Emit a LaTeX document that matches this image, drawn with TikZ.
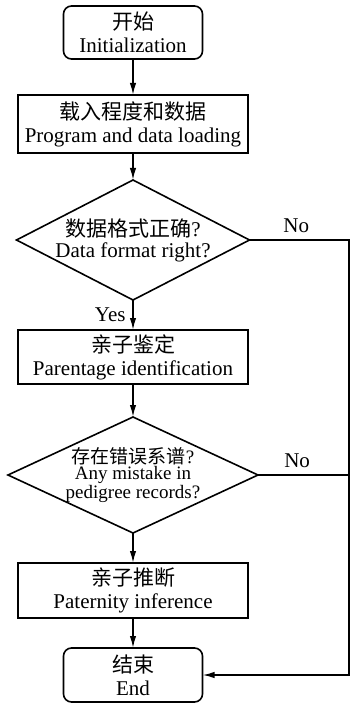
\documentclass[tikz,border=0pt]{standalone}
\usepackage{fontspec}
\setmainfont{Liberation Serif}
\newfontfamily\cjk{Noto Sans CJK SC}
\usepackage{tikz}
\usetikzlibrary{arrows.meta,positioning,shapes.geometric}

\begin{document}
\begin{tikzpicture}[
  font=\fontsize{10.5pt}{11.5pt}\selectfont,
  line width=0.8pt,
  >={Latex[length=6pt,width=3.2pt]},
  term/.style={draw,rounded corners=4pt,minimum width=69.5pt,minimum height=27pt,inner sep=1pt,outer sep=0pt,align=center},
  proc/.style={draw,minimum width=115pt,minimum height=27pt,inner sep=1pt,outer sep=0pt,align=center},
  dec/.style={draw,diamond,shape aspect=2,inner sep=-3pt,outer sep=0pt,align=center},
]
\useasboundingbox (0,0) rectangle (175pt,-353pt);
\coordinate (rt) at (174.5pt,0);

\node[term,minimum height=26.5pt] (init) at (66.5pt,-16.25pt) {{\cjk 开始}\\Initialization};
\node[proc,minimum height=29pt,below=18pt of init] (load) {{\cjk 载入程度和数据}\\Program and data loading};
\node[dec,minimum width=116.5pt,minimum height=60pt,below=13.5pt of load,
  font=\fontsize{10.5pt}{10.5pt}\selectfont] (fmt) {{\cjk 数据格式正确}?\\Data format right?};
\node[proc,below=15pt of fmt] (ident) {{\cjk 亲子鉴定}\\Parentage identification};
\node[dec,minimum width=125pt,minimum height=58pt,inner sep=-6pt,below=16.5pt of ident,
  font=\fontsize{9.5pt}{8pt}\selectfont] (err) {{\cjk 存在错误系谱}?\\Any mistake in\\pedigree records?};
\node[proc,minimum height=27.5pt,below=15pt of err] (infer) {{\cjk 亲子推断}\\Paternity inference};
\node[term,below=15pt of infer] (fin) {{\cjk 结束}\\End};

% main line
\draw[->] (init) -- (load);
\draw[->] (load) -- (fmt);
\draw[->] (fmt) -- node[left]{Yes} (ident);
\draw[->] (ident) -- (err);
\draw[->] (err) -- (infer);
\draw[->] (infer) -- (fin);

% "No" branches run down the right side
\draw[->] (fmt.east) -- node[pos=0.47,above]{No} (fmt.east -| rt) |- (fin.east);
\draw (err.east) -- node[pos=0.43,above]{No} (err.east -| rt);
\end{tikzpicture}
\end{document}
